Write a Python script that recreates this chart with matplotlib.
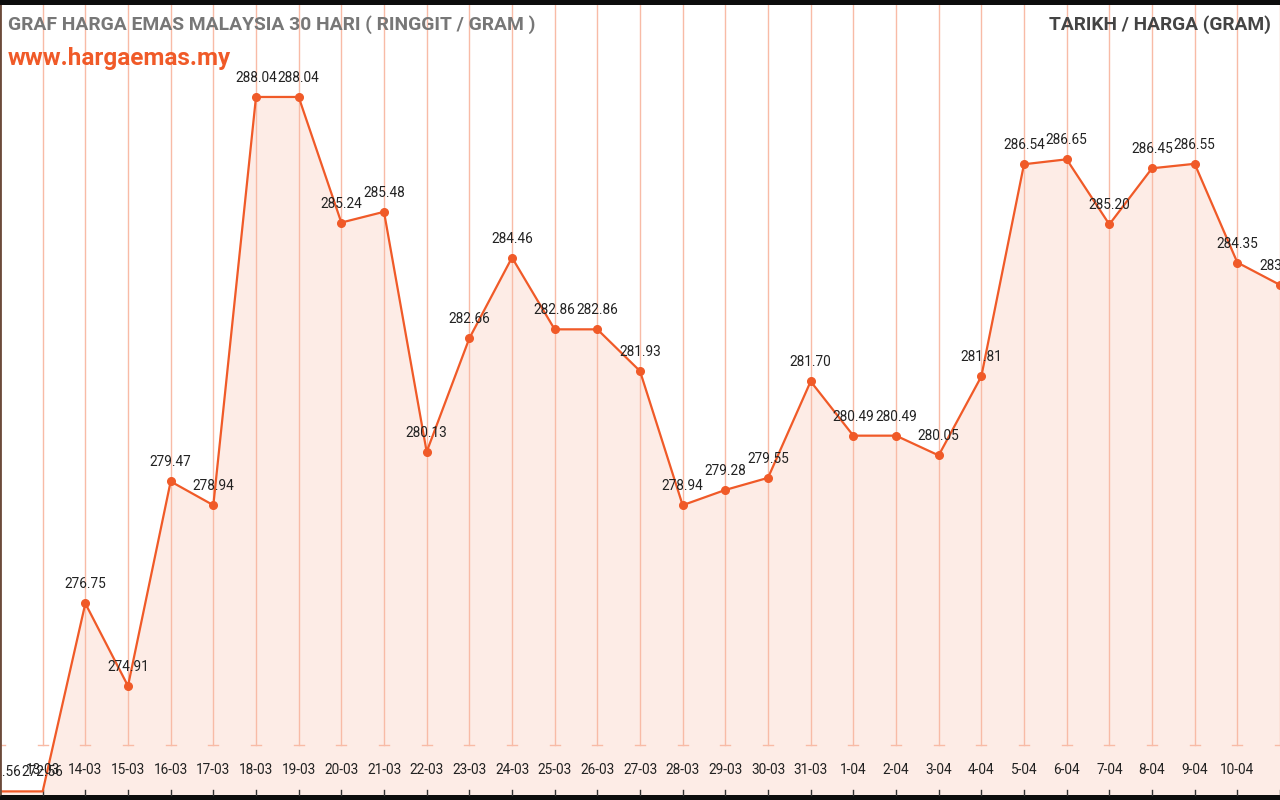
import matplotlib
matplotlib.use("Agg")
import matplotlib.pyplot as plt
import numpy as np

plt.rcParams['font.family'] = ['Roboto', 'DejaVu Sans']

# dates and gold price per gram (RM)
dates = ['12-03', '13-03', '14-03', '15-03', '16-03', '17-03', '18-03', '19-03',
         '20-03', '21-03', '22-03', '23-03', '24-03', '25-03', '26-03', '27-03',
         '28-03', '29-03', '30-03', '31-03', '1-04', '2-04', '3-04', '4-04',
         '5-04', '6-04', '7-04', '8-04', '9-04', '10-04', '11-04']
prices = [272.56, 272.56, 276.75, 274.91, 279.47, 278.94, 288.04, 288.04,
          285.24, 285.48, 280.13, 282.66, 284.46, 282.86, 282.86, 281.93,
          278.94, 279.28, 279.55, 281.70, 280.49, 280.49, 280.05, 281.81,
          286.54, 286.65, 285.20, 286.45, 286.55, 284.35, 283.85]

orange = '#f05a28'
grid_col = '#f8bba6'
fill_col = '#fdece6'

W, H = 1280, 800
fig = plt.figure(figsize=(W / 100, H / 100), dpi=100, facecolor='#0d0d0d')
ax = fig.add_axes([0, 5 / H, 1, 790 / H], facecolor='white')

x = np.arange(len(prices))
ax.set_xlim(0, len(prices) - 1)
ax.set_ylim(272.48, 290.09)

# vertical grid lines with small caps near the bottom
cap_y = 50 / 790
for xi in x:
    ax.axvline(xi, ymin=cap_y, ymax=1, color=grid_col, lw=1, zorder=1)
    ax.plot([xi - 0.12, xi + 0.12], [cap_y, cap_y], color=grid_col, lw=1,
            transform=ax.get_xaxis_transform(), zorder=1)
    ax.plot([xi, xi], [0, 5 / 790], color='#333333', lw=1,
            transform=ax.get_xaxis_transform(), zorder=1, clip_on=False)

ax.fill_between(x, prices, 270, color=fill_col, zorder=0)
ax.plot(x, prices, color=orange, lw=1.6, zorder=3)
ax.plot(x[2:], prices[2:], color=orange, lw=0, marker='o', ms=5.5, zorder=3)

for xi, p in zip(x, prices):
    ax.annotate(f'{p:.2f}', (xi, p), xytext=(0, 19), textcoords='offset pixels',
                ha='center', va='center', fontsize=9.8, color='#222222', zorder=4)

# date labels (last one falls off the edge)
for xi, d in zip(x[1:-1], dates[1:-1]):
    ax.text(xi, 25 / 790, d, transform=ax.get_xaxis_transform(),
            ha='center', va='center', fontsize=9.8, color='#222222')

ax.axvline(0, color='#6b4a3a', lw=2, zorder=5)

ax.set_xticks([])
ax.set_yticks([])
for s in ax.spines.values():
    s.set_visible(False)

fig.text(8 / W, 1 - 25 / H, 'GRAF HARGA EMAS MALAYSIA 30 HARI ( RINGGIT / GRAM )',
         ha='left', va='center', fontsize=13.9, fontweight='bold', color='#777777')
fig.text(8 / W, 1 - 59 / H, 'www.hargaemas.my',
         ha='left', va='center', fontsize=17.5, fontweight='bold', color=orange)
fig.text(1271 / W, 1 - 25 / H, 'TARIKH / HARGA (GRAM)',
         ha='right', va='center', fontsize=13.8, fontweight='bold', color='#444444')

fig.savefig('out.png', dpi=100, facecolor=fig.get_facecolor())
